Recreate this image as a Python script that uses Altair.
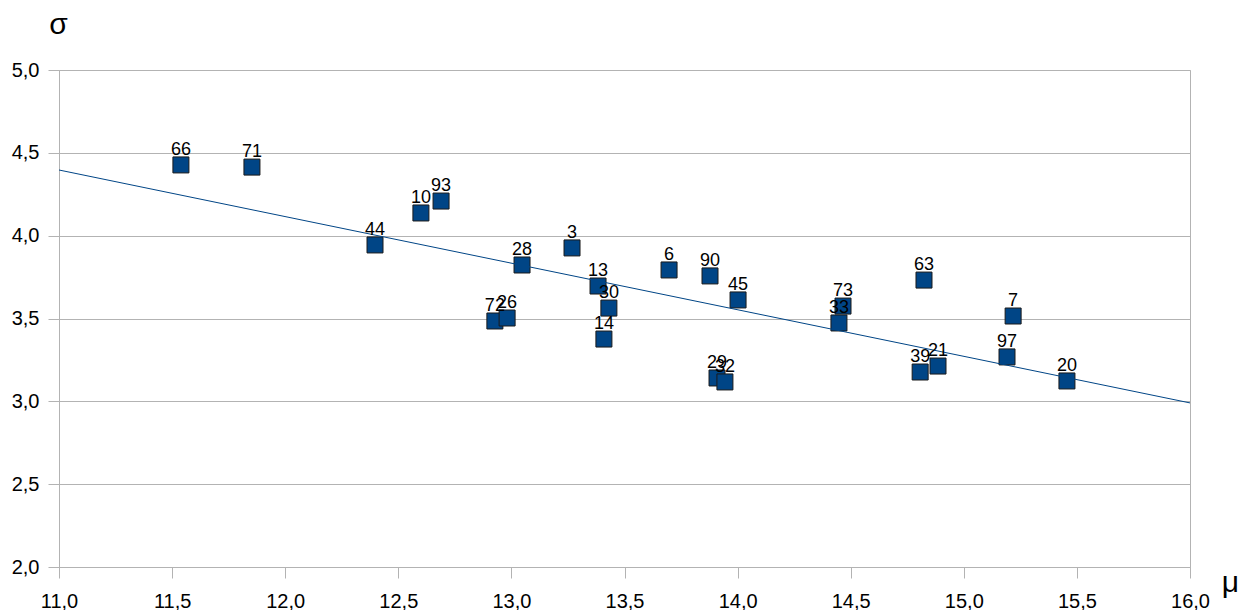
import altair as alt
import pandas as pd

labels = ["66", "71", "44", "10", "93", "28", "3", "13", "30", "14", "72", "26", "6",
          "90", "45", "29", "32", "73", "33", "63", "7", "39", "21", "97", "20"]
mu = [11.539, 11.853, 12.397, 12.600, 12.689, 13.047, 13.268, 13.383, 13.431, 13.409,
      12.927, 12.981, 13.697, 13.878, 14.002, 13.909, 13.944, 14.466, 14.448, 14.824,
      15.218, 14.807, 14.886, 15.191, 15.456]
sigma = [4.427, 4.414, 3.944, 4.137, 4.209, 3.823, 3.926, 3.696, 3.563, 3.376,
         3.485, 3.503, 3.793, 3.757, 3.612, 3.141, 3.117, 3.575, 3.473, 3.732,
         3.515, 3.177, 3.213, 3.268, 3.123]
x_ticks = [11.0, 11.5, 12.0, 12.5, 13.0, 13.5, 14.0, 14.5, 15.0, 15.5, 16.0]
y_ticks = [2.0, 2.5, 3.0, 3.5, 4.0, 4.5, 5.0]

df = pd.DataFrame({"label": labels, "mu": mu, "sigma": sigma})

FONT = "Liberation Sans"
GRAY = "#b3b3b3"
BLUE = "#004586"
fmt = "replace(format(datum.value, '.1f'), '.', ',')"

xscale = alt.Scale(domain=[11, 16], nice=False, zero=False)
yscale = alt.Scale(domain=[2, 5], nice=False, zero=False)

xaxis = alt.Axis(values=x_ticks, grid=False, tickSize=11, tickColor=GRAY, domainColor=GRAY,
                 labelExpr=fmt, labelFont=FONT, labelFontSize=20, labelColor="#000000",
                 labelBaseline="alphabetic", labelPadding=29, labelFlush=False, labelOverlap=False,
                 title="μ", titleFont=FONT, titleFontSize=30, titleFontWeight="normal",
                 titleColor="#000000", titleAngle=0, titleX=1171, titleY=24,
                 titleAlign="center", titleBaseline="alphabetic")
yaxis = alt.Axis(values=y_ticks, grid=True, gridColor=GRAY, tickSize=11, tickColor=GRAY,
                 domainColor=GRAY, labelExpr=fmt, labelFont=FONT, labelFontSize=20,
                 labelColor="#000000", labelPadding=9, labelFlush=False, labelOverlap=False,
                 title="σ", titleFont=FONT, titleFontSize=30, titleFontWeight="normal",
                 titleColor="#000000", titleAngle=0, titleX=-1, titleY=-37,
                 titleAlign="center", titleBaseline="alphabetic")

base = alt.Chart(df)

points = base.mark_square(size=256, filled=True, color=BLUE, stroke="#1a1a1a",
                          strokeWidth=1, opacity=1).encode(
    x=alt.X("mu:Q", scale=xscale, axis=xaxis),
    y=alt.Y("sigma:Q", scale=yscale, axis=yaxis),
)

trend = base.transform_regression("mu", "sigma", extent=[11, 16]).mark_line(
    color=BLUE, strokeWidth=1).encode(
    x=alt.X("mu:Q", scale=xscale),
    y=alt.Y("sigma:Q", scale=yscale),
)

text = base.mark_text(font=FONT, fontSize=18, color="#000000", baseline="alphabetic",
                      align="center", dy=-10).encode(
    x=alt.X("mu:Q", scale=xscale),
    y=alt.Y("sigma:Q", scale=yscale),
    text="label:N",
)

chart = alt.layer(points, trend, text).properties(
    width=1131, height=497,
    autosize=alt.AutoSizeParams(type="none"),
    padding={"left": 51, "top": 62, "right": 49, "bottom": 48},
    background="white",
).configure_view(stroke=GRAY, strokeWidth=1)

chart.save("out.html", embed_options={"renderer": "svg", "actions": False})
